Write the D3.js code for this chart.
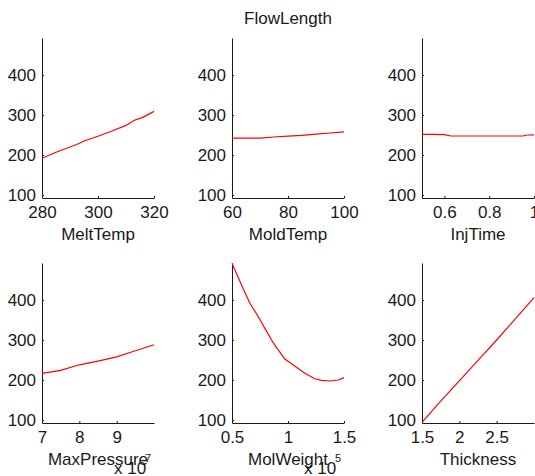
<!DOCTYPE html>
<html><head><meta charset="utf-8">
<script src="https://cdn.jsdelivr.net/npm/d3@7"></script>
<style>
body{margin:0;background:#fff}
text{font-family:"Liberation Sans",Arial,sans-serif}
</style>
</head><body>
<svg id="c" width="535" height="476"></svg>
<script>
const title = "FlowLength";
const yTicks = [100, 200, 300, 400];
const yDomain = [92.5, 492.5];

const meltTempX = [280, 285, 290, 293, 295, 300, 305, 310, 313, 316, 320];
const meltTempY = [192, 207, 220, 228, 235, 247, 260, 274, 287, 294, 309];

const moldTempX = [60, 65, 70, 75, 80, 85, 90, 95, 100];
const moldTempY = [242, 242, 242, 245, 247, 249, 252, 255, 258];

const injTimeX = [0.5, 0.55, 0.6, 0.63, 0.7, 0.8, 0.9, 0.95, 0.97, 1.0];
const injTimeY = [251.5, 251.5, 251, 247.5, 247.5, 247.5, 247.5, 247.5, 250, 250.5];

const maxPressureX = [7e7, 7.5e7, 8e7, 8.5e7, 9e7, 9.5e7, 1e8];
const maxPressureY = [216.5, 224, 238, 247, 258, 273, 288];

const molWeightX = [0.5e5, 0.6e5, 0.66e5, 0.735e5, 0.8e5, 0.87e5, 0.97e5, 1.05e5, 1.15e5, 1.24e5, 1.3e5, 1.375e5, 1.45e5, 1.5e5];
const molWeightY = [492, 428, 392, 358, 326, 292, 253, 237, 217, 203, 199, 197.5, 200, 206];

const thicknessX = [1.5, 1.75, 2, 2.25, 2.5, 2.75, 3];
const thicknessY = [94, 147, 198, 249, 300, 353, 406];

const panels = [
  {name: "MeltTemp", x: meltTempX, y: meltTempY, domain: [280, 320], ticks: [280, 300, 320], scale: 1, exp: null},
  {name: "MoldTemp", x: moldTempX, y: moldTempY, domain: [60, 100], ticks: [60, 80, 100], scale: 1, exp: null},
  {name: "InjTime", x: injTimeX, y: injTimeY, domain: [0.5, 1], ticks: [0.6, 0.8, 1], scale: 1, exp: null},
  {name: "MaxPressure", x: maxPressureX, y: maxPressureY, domain: [7e7, 1e8], ticks: [7e7, 8e7, 9e7], scale: 1e7, exp: "7"},
  {name: "MolWeight", x: molWeightX, y: molWeightY, domain: [0.5e5, 1.5e5], ticks: [0.5e5, 1e5, 1.5e5], scale: 1e5, exp: "5"},
  {name: "Thickness", x: thicknessX, y: thicknessY, domain: [1.5, 3], ticks: [1.5, 2, 2.5], scale: 1, exp: null}
];

const svg = d3.select("#c");
const colLeft = [42, 232, 422], rowTop = [38, 263];
const W = 112, H = 160;
const ink = "#1a1a1a";

svg.append("text").attr("x", 288).attr("y", 24).attr("text-anchor", "middle")
  .attr("font-size", 17).attr("fill", ink).text(title);

panels.forEach((p, i) => {
  const left = colLeft[i % 3], top = rowTop[Math.floor(i / 3)];
  const g = svg.append("g").attr("transform", `translate(${left},${top})`);
  const x = d3.scaleLinear().domain(p.domain).range([0, W]);
  const y = d3.scaleLinear().domain(yDomain).range([H, 0]);

  const ya = g.append("g").call(d3.axisLeft(y).tickValues(yTicks).tickSizeInner(-2).tickSizeOuter(0).tickPadding(6));
  const xa = g.append("g").attr("transform", `translate(0,${H})`)
    .call(d3.axisBottom(x).tickValues(p.ticks).tickSizeInner(-2).tickSizeOuter(0).tickPadding(8)
      .tickFormat(d => d3.format("~g")(+(d / p.scale).toFixed(6))));
  [ya, xa].forEach(a => {
    a.selectAll("path,line").attr("stroke", ink);
    a.selectAll("text").attr("font-size", 17).attr("fill", ink).attr("font-family", '"Liberation Sans",Arial,sans-serif');
  });

  const line = d3.line().x((d, k) => x(p.x[k])).y(d => y(d));
  g.append("path").datum(p.y).attr("d", line).attr("fill", "none")
    .attr("stroke", "#ff0000").attr("stroke-width", 1.2);

  g.append("text").attr("x", W / 2).attr("y", H + 42).attr("text-anchor", "middle")
    .attr("font-size", 17).attr("fill", ink).text(p.name);

  if (p.exp) {
    g.append("text").attr("x", W - 40).attr("y", H + 51)
      .attr("font-size", 17).attr("fill", ink).text("x 10");
    g.append("text").attr("x", W - 9).attr("y", H + 39)
      .attr("font-size", 11).attr("fill", ink).text(p.exp);
  }
});
</script>
</body></html>
